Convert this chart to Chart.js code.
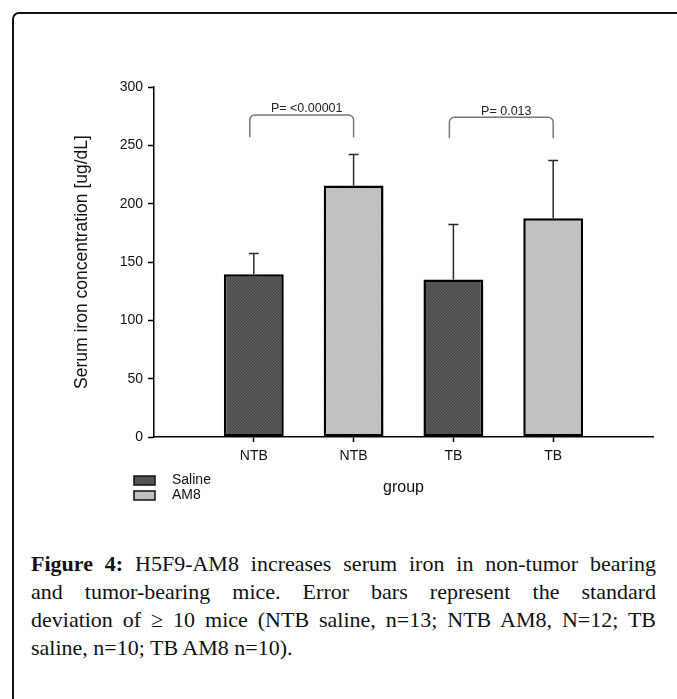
<!DOCTYPE html>
<html>
<head>
<meta charset="utf-8">
<script src="https://cdn.jsdelivr.net/npm/chart.js@4.4.1/dist/chart.umd.min.js"></script>
<style>
  body { margin: 0; width: 677px; height: 699px; overflow: hidden; background: #fff; position: relative; }
  #frame { position: absolute; left: 12px; top: 12px; width: 720px; height: 740px; border: 2px solid #111; border-radius: 7px; }
  #chart-box { position: absolute; left: 0; top: 0; width: 677px; height: 520px; }
  #caption { position: absolute; left: 31px; top: 550px; width: 625px; font-family: "Liberation Serif", serif; font-size: 22px; line-height: 28px; color: #111; }
  #caption .line { text-align: justify; text-align-last: justify; white-space: nowrap; }
  #caption .line.last { text-align-last: left; }
</style>
</head>
<body>
<div id="frame"></div>
<div id="chart-box"><canvas id="chart"></canvas></div>
<div id="caption">
  <div class="line"><b>Figure 4:</b> H5F9-AM8 increases serum iron in non-tumor bearing</div>
  <div class="line">and tumor-bearing mice. Error bars represent the standard</div>
  <div class="line">deviation of ≥ 10 mice (NTB saline, n=13; NTB AM8, N=12; TB</div>
  <div class="line last">saline, n=10; TB AM8 n=10).</div>
</div>
<script>
// categories: empty slots at both ends keep the bars off the axis edges
const categories = ["", "NTB", "NTB", "TB", "TB", ""];
const salineMeans = [null, 139.5, null, 135, null, null];
const salineSD = [null, 18, null, 47.5, null, null];
const am8Means = [null, null, 215.5, null, 187.5, null];
const am8SD = [null, null, 27, null, 50, null];
const yTicks = [0, 50, 100, 150, 200, 250, 300];

// significance brackets: category indexes, bracket top / leg end in data units
const comparisons = [
  { from: 1, to: 2, top: 276, legEnd: 257, label: "P= <0.00001" },
  { from: 3, to: 4, top: 274, legEnd: 256, label: "P= 0.013" },
];

const SANS = "'Liberation Sans', Arial, sans-serif";

function stipple(base, dot) {
  const c = document.createElement("canvas");
  c.width = 3;
  c.height = 3;
  const g = c.getContext("2d");
  g.fillStyle = base;
  g.fillRect(0, 0, 3, 3);
  g.fillStyle = dot;
  g.fillRect(0, 0, 1, 1);
  g.fillRect(2, 1, 1, 1);
  g.fillRect(1, 2, 1, 1);
  return g.createPattern(c, "repeat");
}

const darkFill = stipple("#4e4e4e", "#5f5f5f");
const lightFill = stipple("#bcbcbc", "#cbcbcb");

const errorBars = {
  id: "errorBars",
  afterDatasetsDraw(chart) {
    const { ctx } = chart;
    const y = chart.scales.y;
    ctx.save();
    ctx.strokeStyle = "#2a2a2a";
    ctx.lineWidth = 1.5;
    chart.data.datasets.forEach((ds, di) => {
      chart.getDatasetMeta(di).data.forEach((bar, i) => {
        const v = ds.data[i];
        if (v == null) return;
        const top = Math.round(y.getPixelForValue(v + ds.sd[i])) + 0.5;
        ctx.beginPath();
        ctx.moveTo(bar.x, bar.y);
        ctx.lineTo(bar.x, top);
        ctx.moveTo(bar.x - 5, top);
        ctx.lineTo(bar.x + 5, top);
        ctx.stroke();
      });
    });
    ctx.restore();
  },
};

const brackets = {
  id: "brackets",
  afterDraw(chart) {
    const { ctx } = chart;
    const { x, y } = chart.scales;
    ctx.save();
    ctx.strokeStyle = "#777";
    ctx.lineWidth = 1.5;
    ctx.fillStyle = "#222";
    ctx.font = "12.5px " + SANS;
    ctx.textAlign = "center";
    ctx.textBaseline = "bottom";
    comparisons.forEach((c) => {
      const x1 = x.getPixelForValue(c.from) - 4;
      const x2 = x.getPixelForValue(c.to);
      const yt = y.getPixelForValue(c.top);
      const yb = y.getPixelForValue(c.legEnd);
      ctx.beginPath();
      ctx.moveTo(x1, yb);
      ctx.lineTo(x1, yt + 6);
      ctx.arcTo(x1, yt, x1 + 6, yt, 5);
      ctx.lineTo(x2 - 6, yt);
      ctx.arcTo(x2, yt, x2, yt + 6, 5);
      ctx.lineTo(x2, yb);
      ctx.stroke();
      ctx.fillText(c.label, (x1 + x2) / 2 + 5, yt);
    });
    ctx.restore();
  },
};

const sideLegend = {
  id: "sideLegend",
  afterDraw(chart) {
    const { ctx, chartArea } = chart;
    ctx.save();
    ctx.font = "14px " + SANS;
    ctx.textBaseline = "middle";
    chart.data.datasets.forEach((ds, i) => {
      const left = chartArea.left - 20;
      const top = chartArea.bottom + 39 + i * 15;
      ctx.fillStyle = ds.backgroundColor;
      ctx.fillRect(left, top, 21, 9);
      ctx.strokeStyle = "#111";
      ctx.lineWidth = 1.5;
      ctx.strokeRect(left, top, 21, 9);
      ctx.fillStyle = "#111";
      ctx.fillText(ds.label, left + 38, top + 4.5);
    });
    ctx.restore();
  },
};

new Chart(document.getElementById("chart"), {
  type: "bar",
  data: {
    labels: categories,
    datasets: [
      { label: "Saline", data: salineMeans, sd: salineSD, backgroundColor: darkFill },
      { label: "AM8", data: am8Means, sd: am8SD, backgroundColor: lightFill },
    ],
  },
  options: {
    responsive: true,
    maintainAspectRatio: false,
    animation: false,
    layout: { padding: { top: 87, right: 24, left: 0, bottom: 0 } },
    datasets: {
      bar: {
        grouped: false,
        categoryPercentage: 1,
        barPercentage: 0.6,
        borderColor: "#000",
        borderWidth: 2.5,
        borderSkipped: false,
      },
    },
    plugins: { legend: { display: false }, tooltip: { enabled: false } },
    scales: {
      x: {
        offset: false,
        afterFit(scale) { scale.height = 83; },
        border: { display: true, color: "#000", width: 1.5 },
        grid: {
          offset: false,
          drawOnChartArea: false,
          tickLength: 5,
          tickColor: (ctx) => (categories[ctx.index] ? "#000" : "rgba(0,0,0,0)"),
          tickWidth: 1.5,
        },
        ticks: { color: "#111", font: { family: SANS, size: 14 }, padding: 6, autoSkip: false, maxRotation: 0 },
        title: { display: true, text: "group", color: "#111", font: { family: SANS, size: 16 }, padding: { top: 0, bottom: 23 } },
      },
      y: {
        min: yTicks[0],
        max: yTicks[yTicks.length - 1],
        afterFit(scale) { scale.width = 154; },
        afterBuildTicks(scale) { scale.ticks = yTicks.map((v) => ({ value: v })); },
        border: { display: true, color: "#000", width: 1.5 },
        grid: { drawOnChartArea: false, tickLength: 6, tickColor: "#000", tickWidth: 1.5 },
        ticks: { color: "#111", font: { family: SANS, size: 14 }, padding: 5 },
        title: {
          display: true,
          text: "Serum iron concentration [ug/dL]",
          color: "#111",
          font: { family: SANS, size: 17.5 },
          padding: { top: 72, bottom: 0 },
        },
      },
    },
  },
  plugins: [errorBars, brackets, sideLegend],
});
</script>
</body>
</html>
